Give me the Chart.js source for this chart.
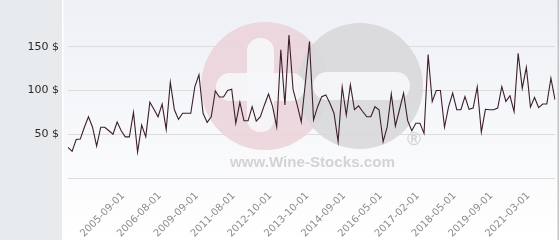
<!DOCTYPE html>
<html><head><meta charset="utf-8">
<script src="https://cdn.jsdelivr.net/npm/chart.js@4"></script>
<style>html,body{margin:0;padding:0;background:#fff}#wrap{width:560px;height:240px;position:relative}</style>
</head><body><div id="wrap"><canvas id="c" width="560" height="240"></canvas></div>
<script>
// Price series (USD), one value per auction date
const values = [
  35, 30.5, 44, 44.5, 58, 70, 58, 36.5, 58, 58,
  54, 50, 64, 54, 47, 47, 75, 29.5, 60.5, 47,
  86.5, 78.5, 70, 84.5, 55.5, 109.5, 78, 67, 74, 74,
  74, 104.5, 118, 74, 63.5, 70, 99.5, 92.5, 92.5, 100,
  101.5, 62.5, 86.5, 65.5, 65.5, 81.5, 65, 70, 83.5, 96,
  81.5, 58.5, 146.5, 83.5, 163.5, 101, 83.5, 64, 108.5, 156,
  66.5, 81.5, 93, 95, 85.5, 74, 41.5, 104, 72, 106.5,
  78, 82.5, 76, 70, 70, 81.5, 78, 41.5, 58.5, 96,
  59.5, 78, 97, 65.5, 54, 62.5, 62.5, 51, 141, 87.5,
  100, 100, 58, 81.5, 97, 78, 78, 93, 78.5, 80,
  104, 52.5, 78.5, 78, 78, 80, 104.5, 87.5, 94, 76,
  142.5, 102.5, 126.5, 81, 92, 80.5, 84.5, 84.5, 114, 89.5
];
// Visible date tick labels (every 9th category starting at index 13)
const tickLabels = ['2005-09-01','2006-08-01','2009-09-01','2011-08-01','2012-10-01','2013-10-01',
  '2014-09-01','2016-05-01','2017-02-01','2018-05-01','2019-09-01','2021-03-01'];
const firstTickIndex = 13, tickStep = 9;
const yMin = 0, yMax = 200, yStep = 50;
const currency = ' $';

const categories = values.map((v, i) => {
  const k = (i - firstTickIndex) / tickStep;
  return (i >= firstTickIndex && Number.isInteger(k) && k < tickLabels.length) ? tickLabels[k] : '';
});

function rr(c, x, y, w, h, r) {
  c.beginPath();
  c.moveTo(x + r, y); c.lineTo(x + w - r, y); c.arc(x + w - r, y + r, r, -Math.PI/2, 0);
  c.lineTo(x + w, y + h - r); c.arc(x + w - r, y + h - r, r, 0, Math.PI/2);
  c.lineTo(x + r, y + h); c.arc(x + r, y + h - r, r, Math.PI/2, Math.PI);
  c.lineTo(x, y + r); c.arc(x + r, y + r, r, Math.PI, 1.5*Math.PI);
  c.closePath(); c.fill();
}

const background = {
  id: 'background',
  beforeDraw(chart) {
    const c = chart.ctx, W = chart.width, H = chart.height;
    c.save();
    const g = c.createLinearGradient(0, 0, 0, H);
    g.addColorStop(0, '#eef0f6');
    g.addColorStop(1, '#ffffff');
    c.fillStyle = g; c.fillRect(0, 0, W, H);
    c.fillStyle = '#e7ebee'; c.fillRect(0, 0, 62, H);
    c.fillStyle = '#ffffff'; c.fillRect(62, 0, 1.5, H);
    c.fillStyle = '#c4c4c4'; c.fillRect(557.5, 0, 1.5, H);
    c.restore();
  }
};

const watermark = {
  id: 'watermark',
  beforeDatasetsDraw(chart) {
    const c = chart.ctx;
    c.save();
    c.globalAlpha = 0.9;
    c.fillStyle = '#ebd4da'; c.beginPath(); c.arc(265, 86, 64, 0, 2*Math.PI); c.fill();
    c.fillStyle = '#d8d8da'; c.beginPath(); c.arc(360, 86, 63, 0, 2*Math.PI); c.fill();
    c.fillStyle = '#f6f7fa';
    rr(c, 247, 38, 27, 94, 13);
    rr(c, 216, 73, 89, 28, 14);
    rr(c, 313, 72, 97, 28, 14);
    c.globalAlpha = 1;
    c.fillStyle = '#d3d3d3';
    let fs = 17;
    c.font = 'bold ' + fs + 'px "Liberation Sans", Arial, sans-serif';
    const w = c.measureText('www.Wine-Stocks.com').width;
    fs = fs * 165 / w;
    c.font = 'bold ' + fs.toFixed(2) + 'px "Liberation Sans", Arial, sans-serif';
    c.textBaseline = 'alphabetic'; c.textAlign = 'left';
    c.fillText('www.Wine-Stocks.com', 230, 167);
    c.font = 'bold 19px "Liberation Sans", Arial, sans-serif';
    c.textAlign = 'center'; c.textBaseline = 'middle';
    c.fillText('®', 414, 140);
    c.restore();
  }
};

new Chart(document.getElementById('c'), {
  type: 'line',
  data: {
    labels: categories,
    datasets: [{
      data: values,
      borderColor: '#3d1f2c',
      borderWidth: 1.1,
      pointRadius: 0,
      tension: 0,
      fill: false
    }]
  },
  options: {
    responsive: false,
    animation: false,
    devicePixelRatio: 1,
    layout: { padding: { top: 3, right: 5, left: 0, bottom: 0 } },
    plugins: { legend: { display: false }, tooltip: { enabled: false } },
    scales: {
      x: {
        type: 'category',
        offset: false,
        grid: { display: false, drawTicks: false },
        border: { display: false },
        ticks: {
          autoSkip: false,
          maxRotation: 45, minRotation: 45,
          padding: 12,
          labelOffset: 2,
          color: '#8c8c8c',
          font: { family: '"DejaVu Sans", sans-serif', size: 10 },
          callback: (v, i) => categories[i]
        },
        afterFit: s => { s.height = 62; s.paddingLeft = 0; s.paddingRight = 0; }
      },
      y: {
        min: yMin, max: yMax,
        grid: {
          drawTicks: false,
          color: ctx => (ctx.tick && ctx.tick.value >= yMax) ? 'rgba(0,0,0,0)' : '#dcdcdc',
          lineWidth: 1
        },
        border: { display: false },
        ticks: {
          stepSize: yStep,
          padding: 9,
          color: '#2b2b2b',
          font: { family: '"DejaVu Sans", sans-serif', size: 11 },
          callback: v => (v <= yMin || v >= yMax) ? '' : v + currency
        },
        afterFit: s => { s.width = 68; s.paddingTop = 0; s.paddingBottom = 0; }
      }
    }
  },
  plugins: [background, watermark]
});
</script>
</body></html>
